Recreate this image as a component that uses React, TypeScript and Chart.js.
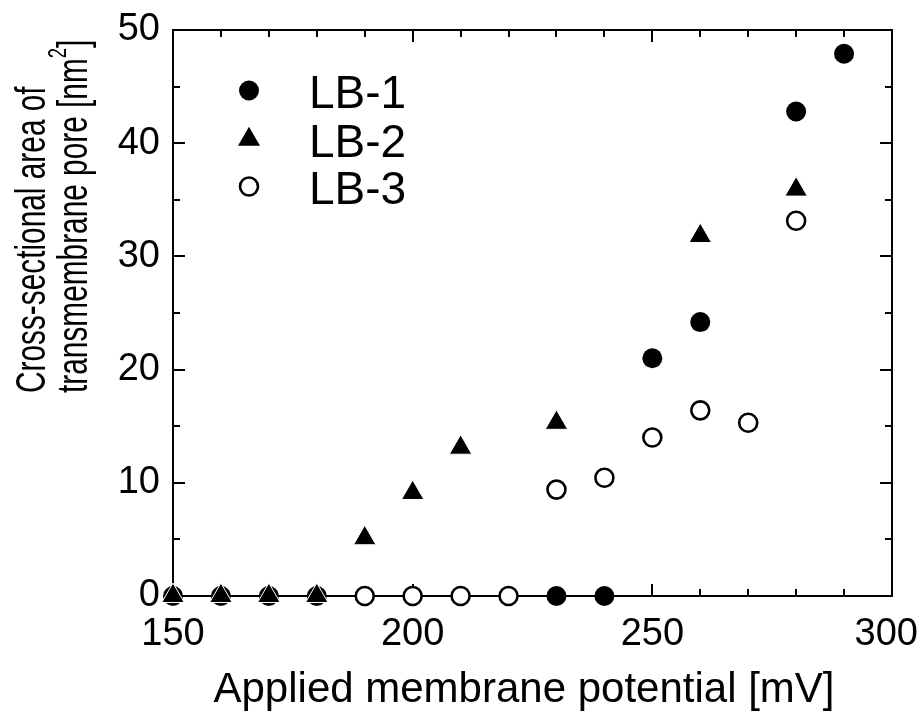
import React, { useEffect, useRef } from "react";
import { Chart, registerables } from "chart.js";

Chart.register(...registerables);

// ---- data ----
const lb1X = [150, 160, 170, 180, 230, 240, 250, 260, 280, 290];
const lb1Y = [0, 0, 0, 0, 0, 0, 21.0, 24.2, 42.8, 47.9];
const lb2X = [150, 160, 170, 180, 190, 200, 210, 230, 260, 280];
const lb2Y = [0, 0, 0, 0, 5.1, 9.1, 13.1, 15.3, 31.8, 35.9];
const lb3X = [190, 200, 210, 220, 230, 240, 250, 260, 270, 280];
const lb3Y = [0, 0, 0, 0, 9.4, 10.45, 14.0, 16.4, 15.3, 33.15];
const seriesNames = ["LB-1", "LB-2", "LB-3"];

const xMin = 150;
const xMax = 300;
const xMajorStep = 50;
const xMinorStep = 10;
const yMin = 0;
const yMax = 50;
const yMajorStep = 10;
const yMinorStep = 5;

const xTitle = "Applied membrane potential [mV]";
const yTitleLine1 = "Cross-sectional area of";
const yTitleLine2 = "transmembrane pore [nm";
const yTitleSup = "2";
const yTitleEnd = "]";

const FONT = "'Liberation Sans', Arial, Helvetica, sans-serif";

const toPoints = (xs: number[], ys: number[]) => xs.map((x, i) => ({ x, y: ys[i] }));

function drawCircle(ctx: CanvasRenderingContext2D, x: number, y: number, r: number, fill: string, stroke: string, lw: number) {
  ctx.beginPath();
  ctx.arc(x, y, r, 0, Math.PI * 2);
  ctx.fillStyle = fill;
  ctx.fill();
  if (lw > 0) {
    ctx.lineWidth = lw;
    ctx.strokeStyle = stroke;
    ctx.stroke();
  }
}

function drawTriangle(ctx: CanvasRenderingContext2D, x: number, y: number, r: number, fill: string) {
  const s = Math.sin((2 * Math.PI) / 3) * r;
  ctx.beginPath();
  ctx.moveTo(x, y - r);
  ctx.lineTo(x + s, y + r / 2);
  ctx.lineTo(x - s, y + r / 2);
  ctx.closePath();
  ctx.fillStyle = fill;
  ctx.fill();
}

const framePlugin = {
  id: "frame",
  beforeDatasetsDraw(chart: any) {
    const { ctx, chartArea } = chart;
    const { left, right, top, bottom } = chartArea;
    const xs = chart.scales.x;
    const ys = chart.scales.y;
    ctx.save();
    ctx.strokeStyle = "#000";
    ctx.lineWidth = 2;
    ctx.strokeRect(left, top, right - left, bottom - top);
    ctx.beginPath();
    for (let v = xMin; v <= xMax + 1e-9; v += xMinorStep) {
      const px = Math.round(xs.getPixelForValue(v));
      const len = (v - xMin) % xMajorStep === 0 ? 12 : 7;
      ctx.moveTo(px, bottom);
      ctx.lineTo(px, bottom - len);
      ctx.moveTo(px, top);
      ctx.lineTo(px, top + len);
    }
    for (let v = yMin; v <= yMax + 1e-9; v += yMinorStep) {
      const py = Math.round(ys.getPixelForValue(v));
      const len = (v - yMin) % yMajorStep === 0 ? 12 : 7;
      ctx.moveTo(left, py);
      ctx.lineTo(left + len, py);
      ctx.moveTo(right, py);
      ctx.lineTo(right - len, py);
    }
    ctx.stroke();

    // x tick labels (kept inside the canvas)
    ctx.fillStyle = "#000";
    ctx.font = `38px ${FONT}`;
    ctx.textAlign = "center";
    ctx.textBaseline = "alphabetic";
    for (const t of xs.ticks) {
      const label = String(t.value);
      const w = ctx.measureText(label).width;
      const px = xs.getPixelForValue(t.value);
      const cx = Math.min(px, chart.width - 5 - w / 2);
      ctx.fillText(label, cx, 645);
    }
    ctx.restore();
  },
  afterDraw(chart: any) {
    const { ctx } = chart;
    ctx.save();
    ctx.fillStyle = "#000";
    // x title
    ctx.font = `42px ${FONT}`;
    ctx.textAlign = "center";
    ctx.textBaseline = "alphabetic";
    ctx.fillText(xTitle, 524, 702);

    // y title (two lines, condensed)
    const drawLine = (bx: number, parts: { t: string; size: number; dy: number }[]) => {
      ctx.save();
      ctx.translate(bx, 393);
      ctx.rotate(-Math.PI / 2);
      ctx.scale(0.71, 1);
      ctx.textAlign = "left";
      let cx = 0;
      for (const p of parts) {
        ctx.font = `${p.size}px ${FONT}`;
        ctx.fillText(p.t, cx, p.dy);
        cx += ctx.measureText(p.t).width;
      }
      ctx.restore();
    };
    drawLine(45, [{ t: yTitleLine1, size: 42, dy: 0 }]);
    drawLine(87, [
      { t: yTitleLine2, size: 42, dy: 0 },
      { t: yTitleSup, size: 26, dy: -21 },
      { t: yTitleEnd, size: 42, dy: 0 },
    ]);

    // legend
    const mx = 249;
    const rows = [90.5, 139.5, 186.5];
    drawCircle(ctx, mx, rows[0], 10, "#000", "#000", 0);
    drawTriangle(ctx, mx, rows[1], 12.7, "#000");
    drawCircle(ctx, mx, rows[2], 9, "#fff", "#000", 2.6);
    ctx.fillStyle = "#000";
    ctx.font = `46px ${FONT}`;
    ctx.textAlign = "left";
    ctx.textBaseline = "alphabetic";
    seriesNames.forEach((n, i) => {
      ctx.fillText(n, 309, rows[i] + 17);
    });
    ctx.restore();
  },
};

export default function App() {
  const ref = useRef<HTMLCanvasElement | null>(null);

  useEffect(() => {
    document.body.style.margin = "0";
    const canvas = ref.current;
    if (!canvas) return;
    const chart = new Chart(canvas, {
      type: "scatter",
      data: {
        datasets: [
          {
            label: seriesNames[0],
            data: toPoints(lb1X, lb1Y),
            pointStyle: "circle",
            pointRadius: 10,
            pointBackgroundColor: "#000",
            pointBorderColor: "#000",
            pointBorderWidth: 0,
            showLine: false,
            clip: false,
            order: 2,
          },
          {
            label: seriesNames[1],
            data: toPoints(lb2X, lb2Y),
            pointStyle: "triangle",
            pointRadius: 13,
            pointBackgroundColor: "#000",
            pointBorderColor: "#fff",
            pointBorderWidth: 1,
            showLine: false,
            clip: false,
            order: 1,
          },
          {
            label: seriesNames[2],
            data: toPoints(lb3X, lb3Y),
            pointStyle: "circle",
            pointRadius: 9,
            pointBackgroundColor: "#fff",
            pointBorderColor: "#000",
            pointBorderWidth: 2.6,
            showLine: false,
            clip: false,
            order: 3,
          },
        ] as any,
      },
      options: {
        animation: false,
        responsive: false,
        devicePixelRatio: 1,
        events: [],
        layout: { padding: { top: 30, right: 31, left: 0, bottom: 0 } },
        plugins: {
          legend: { display: false },
          tooltip: { enabled: false },
          title: { display: false },
        },
        scales: {
          x: {
            type: "linear",
            min: xMin,
            max: xMax,
            grid: { display: false, drawTicks: false },
            border: { display: false },
            ticks: {
              stepSize: xMajorStep,
              display: false,
              maxRotation: 0,
            },
            afterFit: (s: any) => {
              s.height = 115;
              s.paddingLeft = 0;
              s.paddingRight = 0;
            },
          },
          y: {
            type: "linear",
            min: yMin,
            max: yMax,
            grid: { display: false, drawTicks: false },
            border: { display: false },
            ticks: {
              stepSize: yMajorStep,
              color: "#000",
              font: { family: FONT, size: 38 },
              padding: 13,
            },
            afterFit: (s: any) => {
              s.width = 173;
              s.paddingTop = 0;
              s.paddingBottom = 0;
            },
          },
        },
      } as any,
      plugins: [framePlugin as any],
    });
    return () => chart.destroy();
  }, []);

  return (
    <div style={{ width: 923, height: 711, background: "#fff" }}>
      <canvas ref={ref} width={923} height={711} style={{ display: "block", width: 923, height: 711 }} />
    </div>
  );
}
